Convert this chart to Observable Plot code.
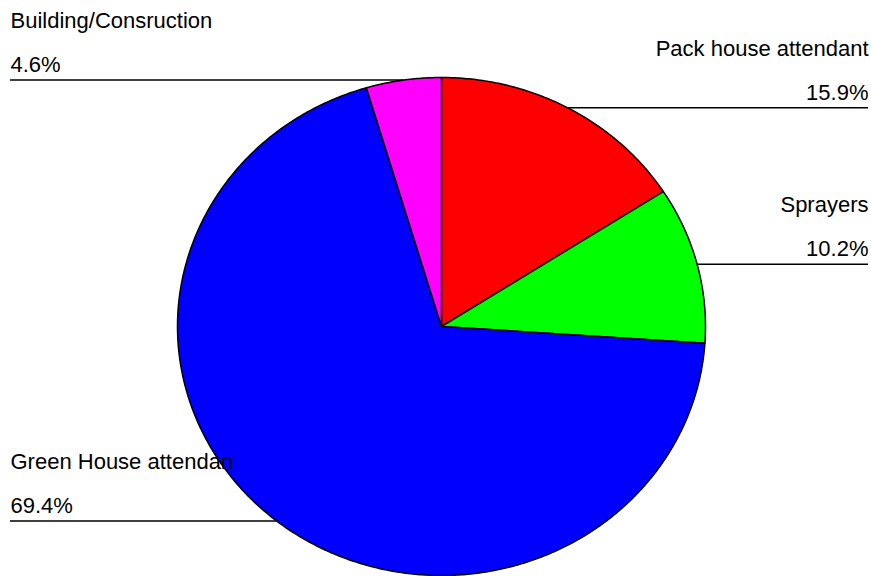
<!DOCTYPE html>
<html><head><meta charset="utf-8">
<script src="https://cdn.jsdelivr.net/npm/d3@7"></script>
<script src="https://cdn.jsdelivr.net/npm/@observablehq/plot@0.6"></script>
<style>body{margin:0;background:#fff}</style></head>
<body><div id="chart"></div>
<script>
const categories = ["Pack house attendant", "Sprayers", "Green House attendan", "Building/Consruction"];
const values = [15.9, 10.2, 69.4, 4.6];
const colors = ["#ff0000", "#00ff00", "#0000ff", "#ff00ff"];

const W = 871, H = 576, cx = 441, cy = 326, rx = 264, ry = 249;
const total = d3.sum(values);
let acc = 0;
const slices = categories.map((c, i) => {
  const a0 = acc / total * 2 * Math.PI; acc += values[i];
  const a1 = acc / total * 2 * Math.PI;
  return {c, a0, a1, v: values[i]};
});
const pts = [];
slices.forEach(s => {
  pts.push({c: s.c, x: 0, y: 0});
  const n = Math.max(2, Math.ceil((s.a1 - s.a0) / (Math.PI / 360)));
  for (let k = 0; k <= n; k++) {
    const a = s.a0 + (s.a1 - s.a0) * k / n;
    pts.push({c: s.c, x: Math.sin(a), y: Math.cos(a)});
  }
  pts.push({c: s.c, x: 0, y: 0});
});
const xDom = [-cx / rx, (W - cx) / rx], yDom = [-(H - cy) / ry, cy / ry];
const labels = slices.map(s => {
  const m = (s.a0 + s.a1) / 2, right = m < Math.PI;
  return {c: s.c, pct: s.v.toFixed(1) + "%", x: Math.sin(m), y: Math.cos(m), right,
          edge: right ? xDom[1] - 3 / rx : xDom[0] + 10 / rx};
});
const font = {fontSize: 22, fill: "#000", lineAnchor: "bottom"};
const chart = Plot.plot({
  width: W, height: H, margin: 0,
  style: {fontFamily: "'Liberation Sans', Arial, sans-serif", background: "#fff"},
  x: {domain: xDom, range: [0, W], axis: null},
  y: {domain: yDom, range: [H, 0], axis: null},
  color: {domain: categories, range: colors},
  marks: [
    Plot.ruleY(labels, {y: "y", x1: "x", x2: "edge", stroke: "black", strokeWidth: 1.5}),
    Plot.line(pts, {x: "x", y: "y", z: "c", fill: "c", stroke: "black", strokeWidth: 1.5, strokeLinejoin: "round", curve: "linear"}),
    Plot.text(labels.filter(d => d.right), {y: "y", text: "c", frameAnchor: "right", textAnchor: "end", dx: -3, dy: -52, ...font}),
    Plot.text(labels.filter(d => d.right), {y: "y", text: "pct", frameAnchor: "right", textAnchor: "end", dx: -3, dy: -8, ...font}),
    Plot.text(labels.filter(d => !d.right), {y: "y", text: "c", frameAnchor: "left", textAnchor: "start", dx: 10, dy: -52, ...font}),
    Plot.text(labels.filter(d => !d.right), {y: "y", text: "pct", frameAnchor: "left", textAnchor: "start", dx: 10, dy: -8, ...font})
  ]
});
document.getElementById("chart").append(chart);
</script>
</body></html>
